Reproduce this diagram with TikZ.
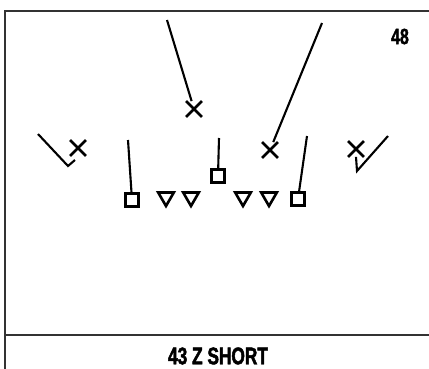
\documentclass[tikz,border=0pt]{standalone}
\usepackage{fontspec}
\newfontfamily\playfont{Liberation Sans}[FakeStretch=0.72, FakeBold=2]
\usetikzlibrary{shapes.misc,shapes.geometric}
\tikzset{
  frame/.style={draw=black!80, line width=2.2pt},
  route/.style={draw=black, line width=2.1pt},
  defx/.style={cross out, draw=black, line width=2.8pt, minimum size=13pt, inner sep=0pt},
  oback/.style={rectangle, draw=black, line width=2.6pt, minimum size=13.5pt, inner sep=0pt},
  dline/.style={regular polygon, regular polygon sides=3, shape border rotate=180, draw=black, line width=2.6pt, minimum size=18pt, inner sep=0pt},
  title/.style={font=\playfont\bfseries\fontsize{24}{26}\selectfont, inner sep=0pt},
  tag/.style={font=\playfont\bfseries\fontsize{22}{24}\selectfont, inner sep=0pt}
}

\begin{document}
\begin{tikzpicture}[x=1pt, y=-1pt]
  \clip (0,0) rectangle (429,368);
  \draw[frame] (440,11) -- (5,11) -- (5,375);
  \draw[frame] (5,335) -- (440,335);

  \node[tag] (num) at (400,36.5) {48};
  \node[title] (name) at (218,356) {43 Z SHORT};

  \node[defx] (xm) at (194,109) {};
  \node[defx] (xs) at (270,150) {};
  \node[defx] (xl) at (78,148) {};
  \node[defx] (xr) at (356,149) {};

  \node[oback] (ce) at (218,176) {};
  \node[oback] (el) at (132,200) {};
  \node[oback] (er) at (298,199) {};

  \node[dline] (t1) at (166,197) {};
  \node[dline] (t2) at (191,197) {};
  \node[dline] (t3) at (243,197) {};
  \node[dline] (t4) at (269,197) {};

  \coordinate (mdeep) at (167,20);
  \coordinate (sdeep) at (322,23);
  \coordinate (lout) at (38,134);
  \coordinate (lbend) at (68,166);
  \coordinate (lend) at (75,160);
  \coordinate (rbend) at (357,171);
  \coordinate (rout) at (388,136);
  \coordinate (cup) at (219,138);
  \coordinate (elup) at (128,140);
  \coordinate (erup) at (307,136);

  \draw[route] (mdeep) -- (xm);
  \draw[route] (sdeep) -- (xs);
  \draw[route] (lout) -- (lbend) -- (lend);
  \draw[route] (xr.south) -- (rbend) -- (rout);
  \draw[route] (cup) -- (ce);
  \draw[route] (elup) -- (el);
  \draw[route] (erup) -- (er);
\end{tikzpicture}
\end{document}
